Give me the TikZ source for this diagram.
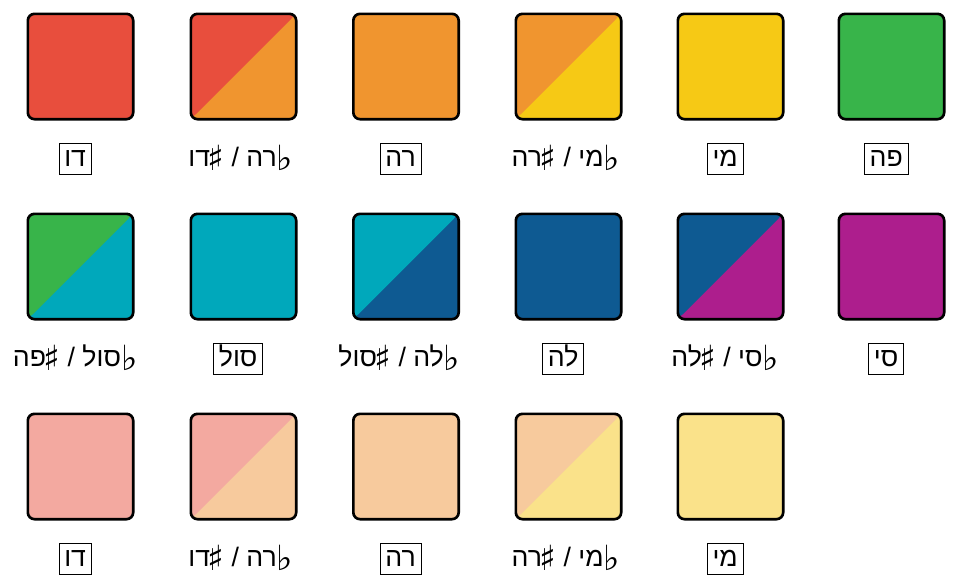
\documentclass[tikz,border=0pt]{standalone}
\usepackage{fontspec}
\usetikzlibrary{positioning}
\TeXXeTstate=1
\newfontfamily\hebfont[Script=Hebrew]{Liberation Sans}
\newfontfamily\symfont{DejaVu Sans}
\newcommand{\flt}{{\symfont\fontsize{26}{26}\selectfont\raisebox{-3pt}{♭}}}
\newcommand{\shp}{{\symfont\fontsize{26}{26}\selectfont\raisebox{-3pt}{♯}}\kern-2pt}
\definecolor{cred}{HTML}{E84E3D}
\definecolor{corange}{HTML}{F0952F}
\definecolor{cyellow}{HTML}{F6C915}
\definecolor{cgreen}{HTML}{38B44A}
\definecolor{ccyan}{HTML}{00A8BB}
\definecolor{cblue}{HTML}{0E5A92}
\definecolor{cmagenta}{HTML}{AD1E8D}
\definecolor{pred}{HTML}{F3A9A0}
\definecolor{porange}{HTML}{F7CA9D}
\definecolor{pyellow}{HTML}{FAE28A}
\tikzset{
  key/.style={draw=black, line width=2pt, rounded corners=5pt, minimum size=79pt, inner sep=0pt},
  halfkey/.style 2 args={key, fill=#2, path picture={
      \fill[#1] (path picture bounding box.south west) -- (path picture bounding box.north west)
        -- (path picture bounding box.north east) -- cycle;}},
  notename/.style={font=\hebfont\fontsize{20}{24}\selectfont, text height=15pt, text depth=4pt, inner sep=2pt},
  naturalname/.style={notename, draw=black, line width=0.6pt, inner xsep=4pt},
}
\begin{document}
\begin{tikzpicture}[x=0.75pt, y=-0.75pt]
    \useasboundingbox (0,0) rectangle (953,586);

    % Row 1
    \node[key, fill=cred] (c) at (80.5,66.5) {};
    \node[halfkey={cred}{corange}] (cs) at (243.5,66.5) {};
    \node[key, fill=corange] (d) at (406,66.5) {};
    \node[halfkey={corange}{cyellow}] (ds) at (568.5,66.5) {};
    \node[key, fill=cyellow] (e) at (730.5,66.5) {};
    \node[key, fill=cgreen] (f) at (891.5,66.5) {};

    \node[naturalname, below=17pt of c, xshift=-4pt] (lc) {\beginR דו\endR};
    \node[notename, below=17pt of cs, xshift=-2pt] (lcs) {\beginR\flt רה / \shp דו\endR};
    \node[naturalname, below=17pt of d, xshift=-4pt] (ld) {\beginR רה\endR};
    \node[notename, below=17pt of ds, xshift=-2pt] (lds) {\beginR\flt מי / \shp רה\endR};
    \node[naturalname, below=17pt of e, xshift=-4pt] (le) {\beginR מי\endR};
    \node[naturalname, below=17pt of f, xshift=-4pt] (lf) {\beginR פה\endR};

    % Row 2
    \node[halfkey={cgreen}{ccyan}] (fs) at (80.5,266.5) {};
    \node[key, fill=ccyan] (g) at (243.5,266.5) {};
    \node[halfkey={ccyan}{cblue}] (gs) at (406,266.5) {};
    \node[key, fill=cblue] (a) at (568.5,266.5) {};
    \node[halfkey={cblue}{cmagenta}] (as) at (730.5,266.5) {};
    \node[key, fill=cmagenta] (b) at (891.5,266.5) {};

    \node[notename, below=17pt of fs, xshift=-4pt] (lfs) {\beginR\flt סול / \shp פה\endR};
    \node[naturalname, below=17pt of g, xshift=-4pt] (lg) {\beginR סול\endR};
    \node[notename, below=17pt of gs, xshift=-5pt] (lgs) {\beginR\flt לה / \shp סול\endR};
    \node[naturalname, below=17pt of a, xshift=-4pt] (la) {\beginR לה\endR};
    \node[notename, below=17pt of as, xshift=-4pt] (las) {\beginR\flt סי / \shp לה\endR};
    \node[naturalname, below=17pt of b, xshift=-4pt] (lb) {\beginR סי\endR};

    % Row 3
    \node[key, fill=pred] (c2) at (80.5,466.5) {};
    \node[halfkey={pred}{porange}] (cs2) at (243.5,466.5) {};
    \node[key, fill=porange] (d2) at (406,466.5) {};
    \node[halfkey={porange}{pyellow}] (ds2) at (568.5,466.5) {};
    \node[key, fill=pyellow] (e2) at (730.5,466.5) {};

    \node[naturalname, below=17pt of c2, xshift=-4pt] (lc2) {\beginR דו\endR};
    \node[notename, below=17pt of cs2, xshift=-2pt] (lcs2) {\beginR\flt רה / \shp דו\endR};
    \node[naturalname, below=17pt of d2, xshift=-4pt] (ld2) {\beginR רה\endR};
    \node[notename, below=17pt of ds2, xshift=-2pt] (lds2) {\beginR\flt מי / \shp רה\endR};
    \node[naturalname, below=17pt of e2, xshift=-4pt] (le2) {\beginR מי\endR};
\end{tikzpicture}
\end{document}
